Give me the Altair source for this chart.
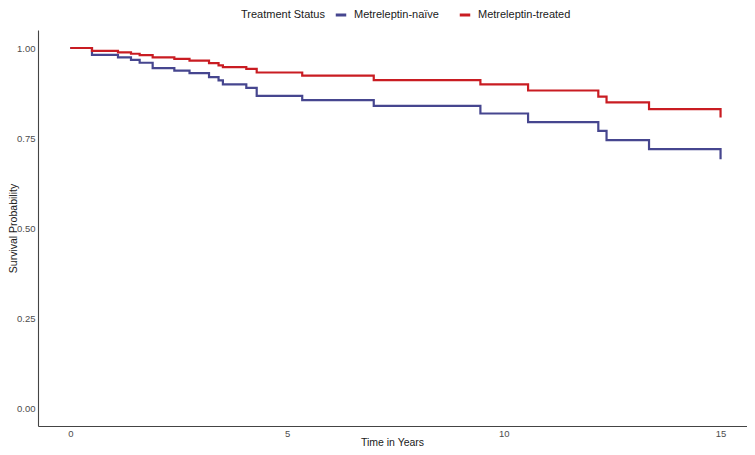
import altair as alt
import pandas as pd

times = [0.0, 0.5, 1.1, 1.4, 1.6, 1.9, 2.4, 2.75, 3.2, 3.42, 3.52, 4.06, 4.3,
         5.35, 7.0, 9.46, 10.56, 12.18, 12.37, 13.35, 15.0]
surv_treated = [1.0, 0.992, 0.988, 0.984, 0.980, 0.974, 0.970, 0.965, 0.958, 0.952,
                0.947, 0.942, 0.932, 0.923, 0.911, 0.899, 0.882, 0.865, 0.849, 0.830, 0.807]
surv_naive = [1.0, 0.981, 0.974, 0.967, 0.959, 0.944, 0.937, 0.930, 0.919, 0.910,
              0.899, 0.889, 0.867, 0.855, 0.839, 0.818, 0.794, 0.770, 0.744, 0.719, 0.691]
groups = ["Metreleptin-naïve", "Metreleptin-treated"]
colors = ["#46468F", "#C91C22"]

rows = []
for t, s in zip(times, surv_naive):
    rows.append({"time": t, "surv": s, "group": groups[0]})
for t, s in zip(times, surv_treated):
    rows.append({"time": t, "surv": s, "group": groups[1]})
df = pd.DataFrame(rows)

FONT = "Liberation Sans"

chart = alt.Chart(df).mark_line(interpolate="step-after", strokeWidth=2.2).encode(
    x=alt.X("time:Q", title="Time in Years",
            scale=alt.Scale(domain=[-0.745, 15.61], nice=False, zero=False),
            axis=alt.Axis(values=[0, 5, 10, 15], format="d", grid=False, ticks=False,
                          labelPadding=2, titleX=354, titleY=19,
                          titleBaseline="alphabetic", titleAlign="center")),
    y=alt.Y("surv:Q", title="Survival Probability",
            scale=alt.Scale(domain=[-0.05, 1.05], nice=False, zero=False),
            axis=alt.Axis(values=[0, 0.25, 0.5, 0.75, 1.0], format=".2f", grid=False,
                          ticks=False, labelPadding=3, titleX=-21.5, titleY=198,
                          titleAngle=270, titleBaseline="alphabetic", titleAlign="center")),
    color=alt.Color("group:N", title="Treatment Status",
                    scale=alt.Scale(domain=groups, range=colors),
                    legend=alt.Legend(orient="none", legendX=203, legendY=-22,
                                      direction="horizontal", titleOrient="left",
                                      symbolType="stroke", symbolStrokeWidth=3,
                                      symbolSize=110, columnPadding=14,
                                      titlePadding=9, labelOffset=6)),
).properties(
    width=709, height=396,
    autosize=alt.AutoSizeParams(type="none"),
    padding={"left": 30, "top": 22, "right": 0, "bottom": 21},
).configure_view(
    stroke=None
).configure_axis(
    domainColor="#444444", domainWidth=1.1,
    labelFont=FONT, labelFontSize=9.5, labelColor="#4D4D4D",
    titleFont=FONT, titleFontSize=10.5, titleColor="#1A1A1A", titleFontWeight="normal",
).configure_legend(
    labelFont=FONT, labelFontSize=11, labelColor="#1A1A1A",
    titleFont=FONT, titleFontSize=11, titleColor="#1A1A1A", titleFontWeight="normal",
)

chart.save("out.html", embed_options={"renderer": "svg", "actions": False})
